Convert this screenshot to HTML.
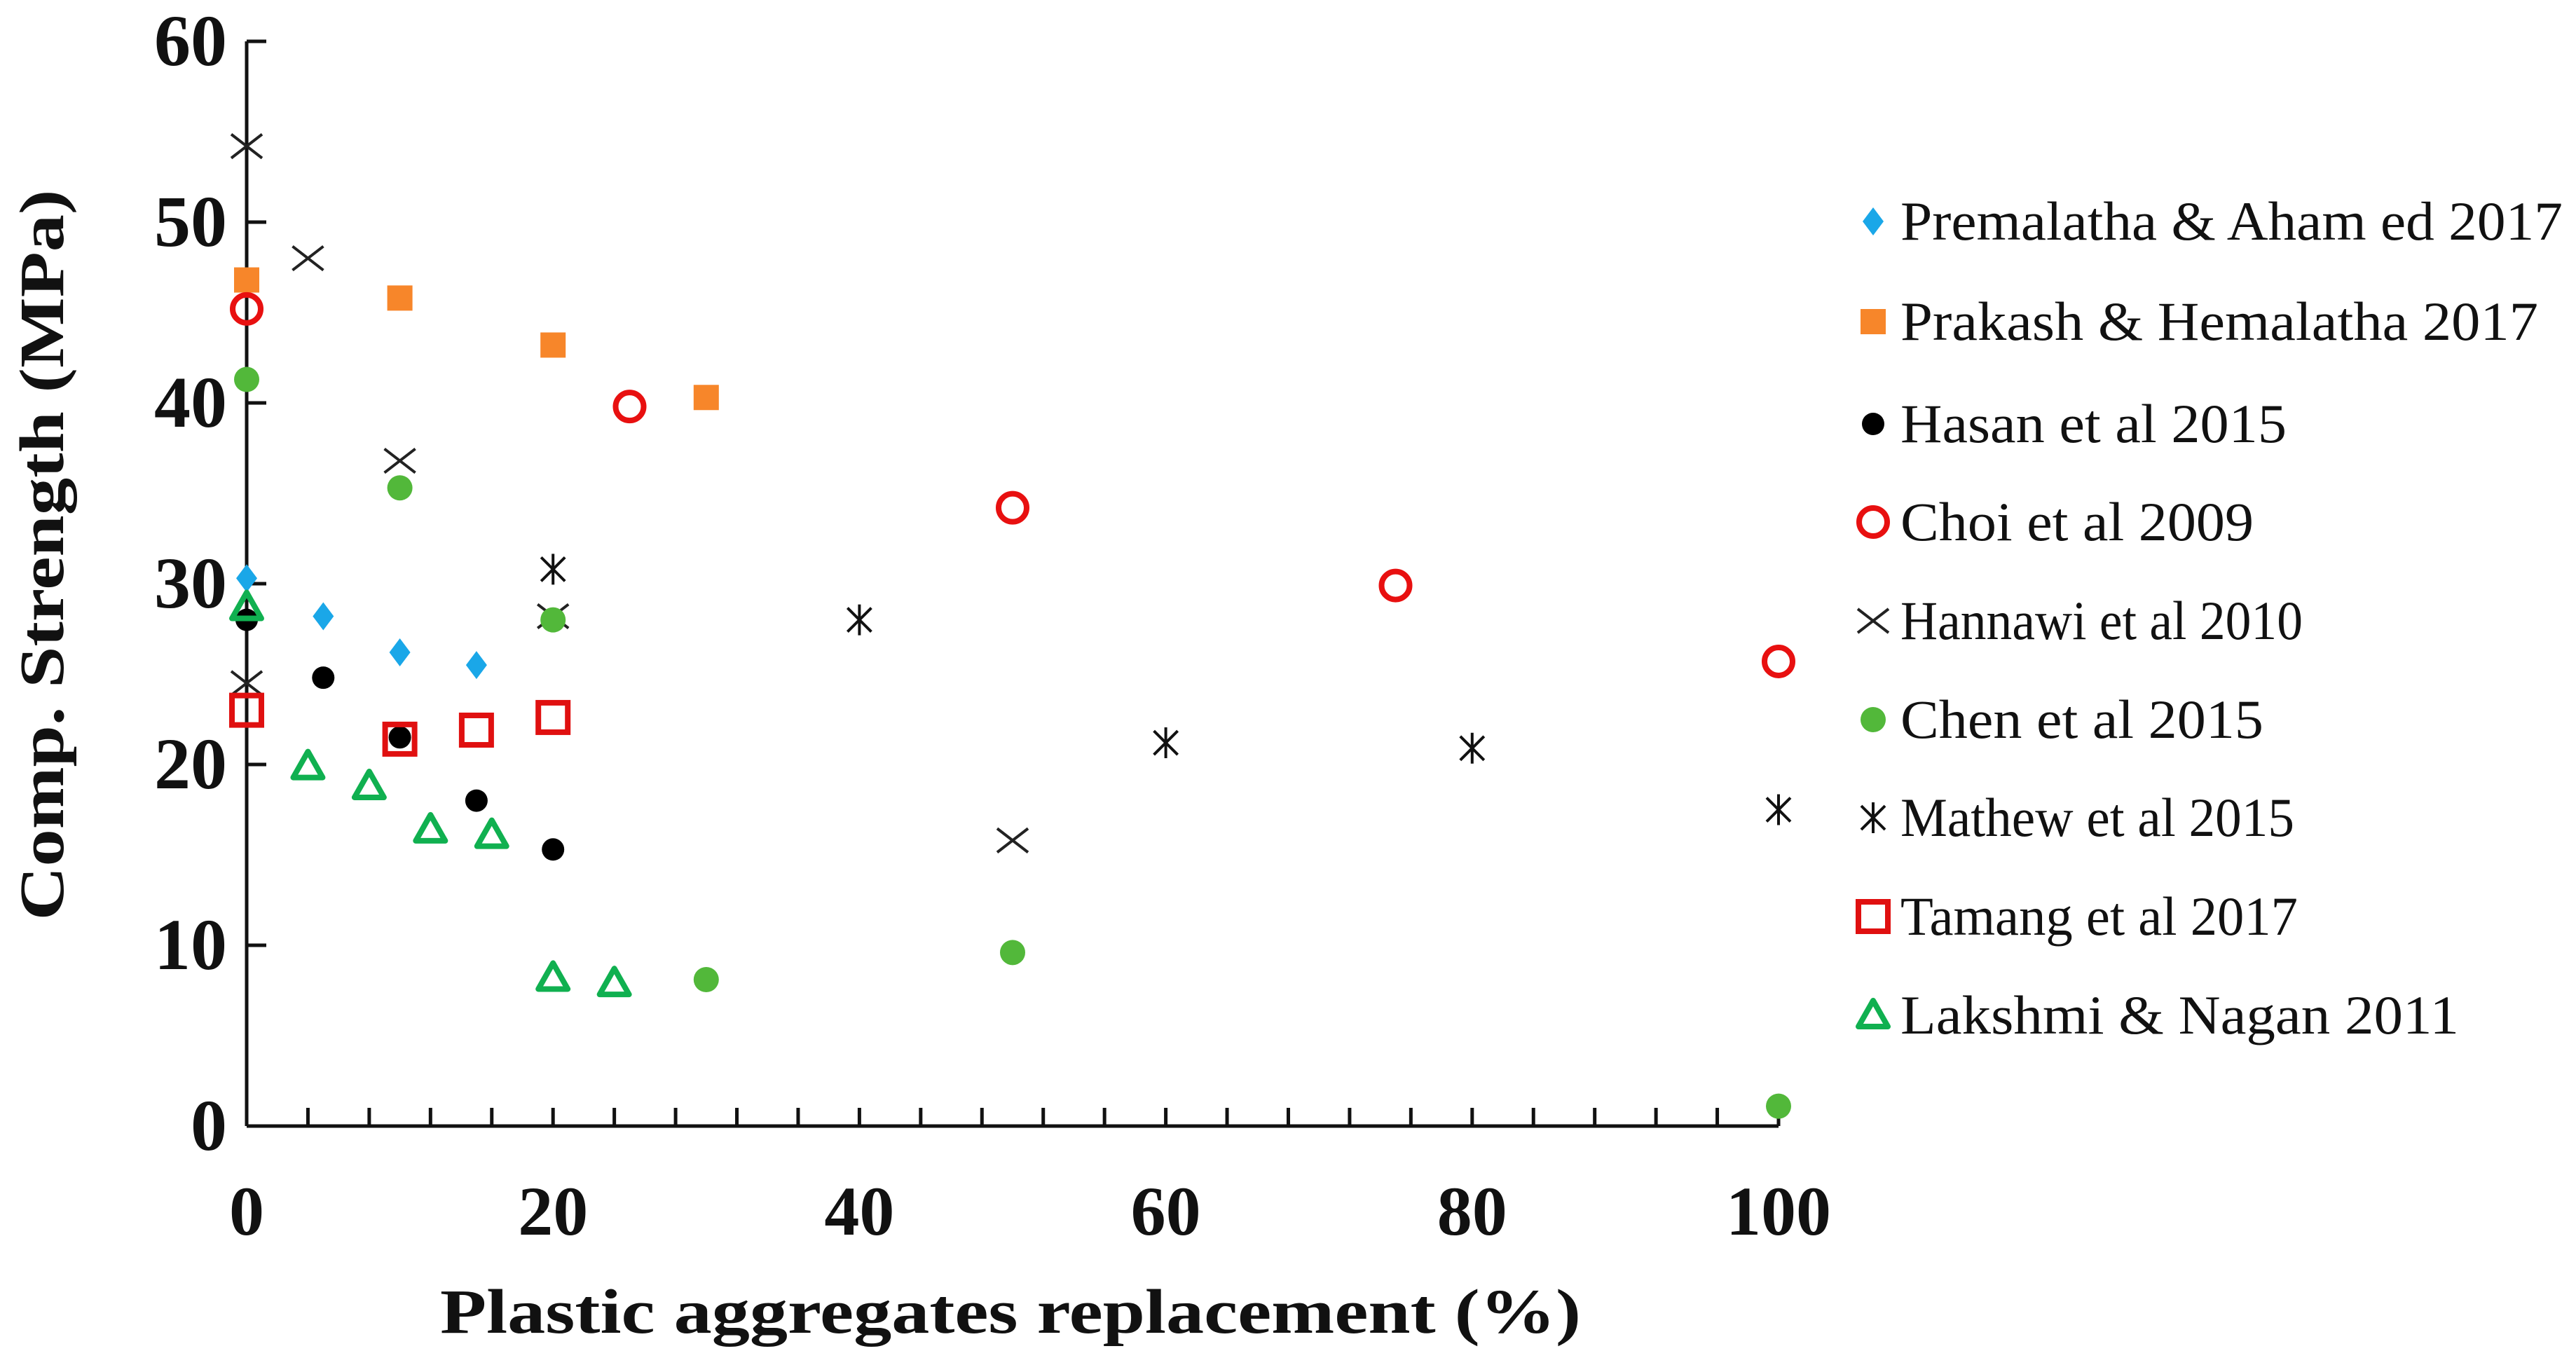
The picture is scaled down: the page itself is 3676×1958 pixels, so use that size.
<!DOCTYPE html>
<html><head><meta charset="utf-8"><style>html,body{margin:0;padding:0;background:#fff}svg{display:block}</style></head>
<body>
<svg id="chart" width="3676" height="1958" viewBox="0 0 3676 1958" xmlns="http://www.w3.org/2000/svg" font-family="'Liberation Serif', serif">
<g id="axes"></g><g id="marks"></g><g id="legend"></g>
</svg>
<script>
const xTicks = [0, 20, 40, 60, 80, 100];
const yTicks = [0, 10, 20, 30, 40, 50, 60];
const seriesNames = ["Premalatha & Aham ed 2017","Prakash & Hemalatha 2017","Hasan et al 2015","Choi et al 2009","Hannawi et al 2010","Chen et al 2015","Mathew et al 2015","Tamang et al 2017","Lakshmi & Nagan 2011"];
const premX = [0,5,10,15], premY = [30.3,28.2,26.2,25.5];
const prakX = [0,10,20,30], prakY = [46.8,45.8,43.2,40.3];
const hasX = [0,5,10,15,20], hasY = [28,24.8,21.5,18,15.3];
const choiX = [0,25,50,75,100], choiY = [45.2,39.8,34.2,29.9,25.7];
const hanX = [0,4,10,20,50,0], hanY = [54.2,48,36.8,28.2,15.8,24.5];
const chenX = [0,10,20,30,50,100], chenY = [41.3,35.3,28,8.1,9.6,1.1];
const matX = [20,40,60,80,100], matY = [30.8,28,21.2,20.9,17.5];
const tamX = [0,10,15,20], tamY = [23,21.4,21.9,22.6];
const lakX = [0,4,8,12,16,20,24], lakY = [28.7,19.9,18.8,16.4,16.1,8.2,7.9];
const legendWidths = [945,910,551,504,574,518,562,567,797];

const NS="http://www.w3.org/2000/svg";
const X0=352,X1=2538,Y0=1607,Y1=59;
const sx=v=>X0+(v/100)*(X1-X0);
const sy=v=>Y0-(v/60)*(Y0-Y1);
function mk(tag,attrs,parent){const e=document.createElementNS(NS,tag);for(const k in attrs)e.setAttribute(k,attrs[k]);parent.appendChild(e);return e;}
const axes=document.getElementById('axes'),marks=document.getElementById('marks'),legend=document.getElementById('legend');

let a=mk('line',{x1:X0,y1:Y0,x2:X1,y2:Y0,stroke:'#111','stroke-width':5},axes);

a=mk('line',{x1:X0,y1:Y0,x2:X0,y2:Y1,stroke:'#111','stroke-width':5},axes);

for(let v=4;v<=100;v+=4){const t=mk('line',{x1:sx(v),y1:Y0,x2:sx(v),y2:Y0-26,stroke:'#111','stroke-width':5},axes);
}
xTicks.forEach(v=>{const t=mk('text',{x:sx(v),y:1762,'text-anchor':'middle','font-size':100,'font-weight':'bold',fill:'#111'},axes);t.textContent=v;
});
yTicks.forEach(v=>{const l=mk('line',{x1:X0,y1:sy(v),x2:X0+28,y2:sy(v),stroke:'#111','stroke-width':5},axes);

const t=mk('text',{x:324,y:sy(v)+34,'text-anchor':'end','font-size':104,'font-weight':'bold',fill:'#111'},axes);t.textContent=v;
});
let tt=mk('text',{x:1442,y:1902,'text-anchor':'middle','font-size':90,'font-weight':'bold',fill:'#111',textLength:1628,lengthAdjust:'spacingAndGlyphs'},axes);
tt.textContent='Plastic aggregates replacement (%)';

tt=mk('text',{x:0,y:0,'text-anchor':'middle','font-size':90,'font-weight':'bold',fill:'#111',textLength:1043,lengthAdjust:'spacingAndGlyphs',transform:'translate(90,792) rotate(-90)'},axes);
tt.textContent='Comp. Strength (MPa)';


function marker(kind,cx,cy,parent){
  const g=mk('g',{},parent);
  if(kind==0) mk('polygon',{points:`${cx},${cy-20} ${cx+15},${cy} ${cx},${cy+20} ${cx-15},${cy}`,fill:'#1aa7e8'},g);
  else if(kind==1) mk('rect',{x:cx-18,y:cy-18,width:36,height:36,fill:'#f7862a'},g);
  else if(kind==2) mk('circle',{cx:cx,cy:cy,r:16,fill:'#000'},g);
  else if(kind==3) mk('circle',{cx:cx,cy:cy,r:20,fill:'none',stroke:'#e81010','stroke-width':8},g);
  else if(kind==4){mk('line',{x1:cx-22,y1:cy-17,x2:cx+22,y2:cy+17,stroke:'#222','stroke-width':4},g);mk('line',{x1:cx-22,y1:cy+17,x2:cx+22,y2:cy-17,stroke:'#222','stroke-width':4},g);}
  else if(kind==5) mk('circle',{cx:cx,cy:cy,r:18,fill:'#52b83a'},g);
  else if(kind==6){mk('line',{x1:cx-17,y1:cy-17,x2:cx+17,y2:cy+17,stroke:'#111','stroke-width':4},g);mk('line',{x1:cx-17,y1:cy+17,x2:cx+17,y2:cy-17,stroke:'#111','stroke-width':4},g);mk('line',{x1:cx,y1:cy-22,x2:cx,y2:cy+22,stroke:'#111','stroke-width':4},g);}
  else if(kind==7) mk('rect',{x:cx-21,y:cy-21,width:42,height:42,fill:'none',stroke:'#e01010','stroke-width':8},g);
  else mk('polygon',{points:`${cx},${cy-21} ${cx+21},${cy+16} ${cx-21},${cy+16}`,fill:'none',stroke:'#10b050','stroke-width':8,'stroke-linejoin':'round'},g);
  return g;
}
const allX=[premX,prakX,hasX,choiX,hanX,chenX,matX,tamX,lakX];
const allY=[premY,prakY,hasY,choiY,hanY,chenY,matY,tamY,lakY];
const slugs=['premalatha','prakash','hasan','choi','hannawi','chen','mathew','tamang','lakshmi'];
allX.forEach((xs,s)=>{xs.forEach((xv,i)=>{const g=marker(s,sx(xv),sy(allY[s][i]),marks);

});});

const legY=[316,459,605,745,886,1027,1167,1308,1449];
seriesNames.forEach((n,s)=>{const g=mk('g',{},legend);


marker(s,2673,legY[s],g);
const t=mk('text',{x:2712,y:legY[s]+26,'font-size':78,fill:'#111',textLength:legendWidths[s],lengthAdjust:'spacingAndGlyphs'},g);t.textContent=n;});
</script>
</body></html>
